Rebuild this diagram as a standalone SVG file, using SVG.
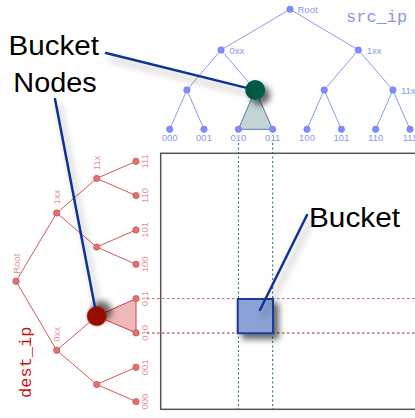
<svg xmlns="http://www.w3.org/2000/svg" width="415" height="418" viewBox="0 0 415 418">
<defs>
<filter id="sh" x="-40%" y="-40%" width="200%" height="200%">
<feGaussianBlur in="SourceAlpha" stdDeviation="3"/>
<feOffset dx="5" dy="5" result="b"/>
<feFlood flood-color="#000" flood-opacity="0.6"/>
<feComposite in2="b" operator="in"/>
<feMerge><feMergeNode/><feMergeNode in="SourceGraphic"/></feMerge>
</filter>
<filter id="lsh" x="-30%" y="-30%" width="180%" height="180%">
<feGaussianBlur in="SourceAlpha" stdDeviation="3.5"/>
<feOffset dx="4" dy="6" result="b"/>
<feFlood flood-color="#000" flood-opacity="0.32"/>
<feComposite in2="b" operator="in"/>
<feMerge><feMergeNode/><feMergeNode in="SourceGraphic"/></feMerge>
</filter>
</defs>
<style>
text{font-family:"Liberation Sans",Arial,sans-serif}
.bl line{stroke:#8c98f8;stroke-width:1}
.bn{fill:#7f8cff;stroke:#6c7af2;stroke-width:0.6}
.bt{fill:#8c98f0;font-size:9.5px}
.rl line{stroke:#d55858;stroke-width:1}
.rn{fill:#e07272;stroke:#c84848;stroke-width:0.6}
.rt{fill:#e49090;font-size:9.5px}
.mid{text-anchor:middle}
.lead{stroke:#0a3399;stroke-width:2.5;fill:none;stroke-linecap:round}
.big{font-size:27px;fill:#000}
.mono{font-family:"Liberation Mono","Courier New",monospace;font-size:17px}
.gdot{stroke:#1a6a50;stroke-width:1;stroke-dasharray:2,2.5}
.rdash{stroke:#a82020;stroke-width:1;stroke-dasharray:2.5,2.5}
</style>
<rect width="415" height="418" fill="#fff"/>

<!-- grid box -->
<g id="grid">
<rect x="160.7" y="153.3" width="300" height="256" fill="#fff" stroke="#555" stroke-width="1.5"/>
<line class="gdot" x1="238.4" y1="143" x2="238.4" y2="409"/>
<line class="gdot" x1="272.7" y1="143" x2="272.7" y2="409"/>
<line class="rdash" x1="147" y1="298.6" x2="415" y2="298.6" stroke-opacity="0.7"/>
<line class="rdash" x1="147" y1="333" x2="415" y2="333"/>
</g>

<!-- src_ip tree -->
<g id="src-tree">
<g class="bl" id="src-edges">
<line x1="290" y1="9.3" x2="221" y2="50"/>
<line x1="290" y1="9.3" x2="358.3" y2="50"/>
<line x1="221" y1="50" x2="186.9" y2="90"/>
<line x1="221" y1="50" x2="255.2" y2="90"/>
<line x1="358.3" y1="50" x2="324.2" y2="90"/>
<line x1="358.3" y1="50" x2="392.9" y2="90"/>
<line x1="186.9" y1="90" x2="169.7" y2="129.3"/>
<line x1="186.9" y1="90" x2="204" y2="129.3"/>
<line x1="324.2" y1="90" x2="307" y2="129.3"/>
<line x1="324.2" y1="90" x2="341.4" y2="129.3"/>
<line x1="392.9" y1="90" x2="375.7" y2="129.3"/>
<line x1="392.9" y1="90" x2="410" y2="129.3"/>
</g>
<polygon points="255.2,90 238.4,129.3 272.7,129.3" fill="#c3d6d3" stroke="#5a78a8" stroke-width="1"/>
<g id="s-root"><circle class="bn" cx="290" cy="9.3" r="3.2"/><text class="bt" x="297.5" y="13">Root</text></g>
<g id="s-0xx"><circle class="bn" cx="221" cy="50" r="3.2"/><text class="bt" x="229.5" y="53.5">0xx</text></g>
<g id="s-1xx"><circle class="bn" cx="358.3" cy="50" r="3.2"/><text class="bt" x="366.8" y="53.5">1xx</text></g>
<g id="s-00x"><circle class="bn" cx="186.9" cy="90" r="3.2"/></g>
<g id="s-01x"><circle cx="255.2" cy="90" r="10" fill="#005a46" filter="url(#sh)"/></g>
<g id="s-10x"><circle class="bn" cx="324.2" cy="90" r="3.2"/></g>
<g id="s-11x"><circle class="bn" cx="392.9" cy="90" r="3.2"/><text class="bt" x="401" y="93.5">11x</text></g>
<g id="s-000"><circle class="bn" cx="169.7" cy="129.3" r="3.2"/><text class="bt mid" x="169.7" y="141">000</text></g>
<g id="s-001"><circle class="bn" cx="204" cy="129.3" r="3.2"/><text class="bt mid" x="204" y="141">001</text></g>
<g id="s-010"><circle class="bn" cx="238.4" cy="129.3" r="3.2"/><text class="bt mid" x="238.4" y="141">010</text></g>
<g id="s-011"><circle class="bn" cx="272.7" cy="129.3" r="3.2"/><text class="bt mid" x="272.7" y="141">011</text></g>
<g id="s-100"><circle class="bn" cx="307" cy="129.3" r="3.2"/><text class="bt mid" x="307" y="141">100</text></g>
<g id="s-101"><circle class="bn" cx="341.4" cy="129.3" r="3.2"/><text class="bt mid" x="341.4" y="141">101</text></g>
<g id="s-110"><circle class="bn" cx="375.7" cy="129.3" r="3.2"/><text class="bt mid" x="375.7" y="141">110</text></g>
<g id="s-111"><circle class="bn" cx="410" cy="129.3" r="3.2"/><text class="bt mid" x="410" y="141">111</text></g>
</g>
<text id="src-label" class="mono" x="346" y="21.5" fill="#8c98e4">src_ip</text>

<!-- dest_ip tree (same layout, rotated) -->
<g id="dest-tree" transform="translate(6.7,571.3) rotate(-90)">
<g class="rl" id="dest-edges">
<line x1="290" y1="9.3" x2="221" y2="50"/>
<line x1="290" y1="9.3" x2="358.3" y2="50"/>
<line x1="221" y1="50" x2="186.9" y2="90"/>
<line x1="221" y1="50" x2="255.2" y2="90"/>
<line x1="358.3" y1="50" x2="324.2" y2="90"/>
<line x1="358.3" y1="50" x2="392.9" y2="90"/>
<line x1="186.9" y1="90" x2="169.7" y2="129.3"/>
<line x1="186.9" y1="90" x2="204" y2="129.3"/>
<line x1="324.2" y1="90" x2="307" y2="129.3"/>
<line x1="324.2" y1="90" x2="341.4" y2="129.3"/>
<line x1="392.9" y1="90" x2="375.7" y2="129.3"/>
<line x1="392.9" y1="90" x2="410" y2="129.3"/>
</g>
<polygon points="255.2,90 238.4,129.3 272.7,129.3" fill="#f0b8b8" stroke="#cc4444" stroke-width="1"/>
<g id="d-root"><circle class="rn" cx="290" cy="9.3" r="3.2"/><text class="rt" x="297.5" y="13">Root</text></g>
<g id="d-0xx"><circle class="rn" cx="221" cy="50" r="3.2"/><text class="rt" x="229.5" y="53.5">0xx</text></g>
<g id="d-1xx"><circle class="rn" cx="358.3" cy="50" r="3.2"/><text class="rt" x="366.8" y="53.5">1xx</text></g>
<g id="d-00x"><circle class="rn" cx="186.9" cy="90" r="3.2"/></g>
<g id="d-01x"><circle cx="255.2" cy="90" r="10" fill="#991100" filter="url(#sh)"/></g>
<g id="d-10x"><circle class="rn" cx="324.2" cy="90" r="3.2"/></g>
<g id="d-11x"><circle class="rn" cx="392.9" cy="90" r="3.2"/><text class="rt" x="401" y="93.5">11x</text></g>
<g id="d-000"><circle class="rn" cx="169.7" cy="129.3" r="3.2"/><text class="rt mid" x="169.7" y="141">000</text></g>
<g id="d-001"><circle class="rn" cx="204" cy="129.3" r="3.2"/><text class="rt mid" x="204" y="141">001</text></g>
<g id="d-010"><circle class="rn" cx="238.4" cy="129.3" r="3.2"/><text class="rt mid" x="238.4" y="141">010</text></g>
<g id="d-011"><circle class="rn" cx="272.7" cy="129.3" r="3.2"/><text class="rt mid" x="272.7" y="141">011</text></g>
<g id="d-100"><circle class="rn" cx="307" cy="129.3" r="3.2"/><text class="rt mid" x="307" y="141">100</text></g>
<g id="d-101"><circle class="rn" cx="341.4" cy="129.3" r="3.2"/><text class="rt mid" x="341.4" y="141">101</text></g>
<g id="d-110"><circle class="rn" cx="375.7" cy="129.3" r="3.2"/><text class="rt mid" x="375.7" y="141">110</text></g>
<g id="d-111"><circle class="rn" cx="410" cy="129.3" r="3.2"/><text class="rt mid" x="410" y="141">111</text></g>
</g>
<text id="dest-label" class="mono" transform="translate(30.5,398) rotate(-90)" fill="#cc1111">dest_ip</text>

<!-- bucket -->
<g id="bucket">
<rect x="237.7" y="299" width="35.3" height="34.3" fill="#8aa2d4" stroke="#1a3a9a" stroke-width="2" filter="url(#sh)"/>
</g>

<!-- callout leaders -->
<g id="leaders" filter="url(#lsh)">
<line class="lead" x1="106" y1="53" x2="245.5" y2="87.6"/>
<line class="lead" x1="55" y1="99" x2="94.8" y2="306.3"/>
<line class="lead" x1="307" y1="215" x2="260" y2="310"/>
</g>

<g id="callout-bucket-nodes">
<text class="big" x="8.5" y="55" textLength="90.5" lengthAdjust="spacingAndGlyphs">Bucket</text>
<text class="big" x="13.3" y="91.5" textLength="83.4" lengthAdjust="spacingAndGlyphs">Nodes</text>
</g>
<g id="callout-bucket">
<text class="big" x="309" y="227" textLength="91" lengthAdjust="spacingAndGlyphs">Bucket</text>
</g>
</svg>
